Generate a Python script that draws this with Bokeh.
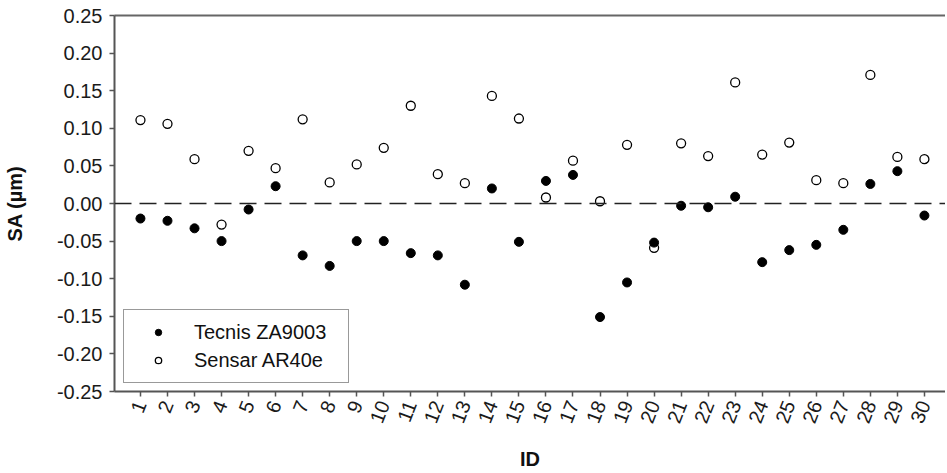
from bokeh.plotting import figure
from bokeh.models import (ColumnDataSource, FixedTicker, NumeralTickFormatter, Span,
                          Legend, LegendItem, LinearAxis, Range1d)
from bokeh.embed import file_html
from bokeh.resources import INLINE

ids = list(range(1, 31))
tecnis = [-0.020, -0.023, -0.033, -0.050, -0.008, 0.023, -0.069, -0.083, -0.050, -0.050,
          -0.066, -0.069, -0.108, 0.020, -0.051, 0.030, 0.038, -0.151, -0.105, -0.052,
          -0.003, -0.005, 0.009, -0.078, -0.062, -0.055, -0.035, 0.026, 0.043, -0.016]
sensar = [0.111, 0.106, 0.059, -0.028, 0.070, 0.047, 0.112, 0.028, 0.052, 0.074,
          0.130, 0.039, 0.027, 0.143, 0.113, 0.008, 0.057, 0.003, 0.078, -0.059,
          0.080, 0.063, 0.161, 0.065, 0.081, 0.031, 0.027, 0.171, 0.062, 0.059]
y_ticks = [-0.25, -0.20, -0.15, -0.10, -0.05, 0.0, 0.05, 0.10, 0.15, 0.20, 0.25]

FONT = "Liberation Sans"

p = figure(width=945, height=473, output_backend="svg", toolbar_location=None,
           x_range=Range1d(0.04, 30.78), y_range=Range1d(-0.25, 0.25),
           min_border_left=114, min_border_right=0, min_border_top=15, min_border_bottom=82)
p.xgrid.visible = False
p.ygrid.visible = False
p.outline_line_color = None
p.background_fill_color = "white"
p.border_fill_color = "white"

src = ColumnDataSource(dict(id=ids, tecnis=tecnis, sensar=sensar))

zero = Span(location=0, dimension="width", line_color="#222222", line_width=1.3,
            line_dash="17 8")
p.add_layout(zero)

r_s = p.scatter("id", "sensar", source=src, size=9, marker="circle",
                fill_color="white", line_color="black", line_width=1.3)
r_t = p.scatter("id", "tecnis", source=src, size=9, marker="circle",
                fill_color="black", line_color="black", line_width=1)

for ax in (p.xaxis[0], p.yaxis[0]):
    ax.axis_line_color = "#555555"
    ax.axis_line_width = 2
    ax.major_tick_line_color = "#555555"
    ax.major_tick_line_width = 1.5
    ax.major_tick_in = 0
    ax.major_tick_out = 5
    ax.minor_tick_line_color = None
    ax.major_label_text_font = FONT
    ax.major_label_text_font_size = "20px"
    ax.major_label_text_color = "#1a1a1a"
    ax.axis_label_text_font = FONT
    ax.axis_label_text_font_style = "bold"
    ax.axis_label_text_font_size = "20px"
    ax.axis_label_text_color = "#111111"

p.yaxis.ticker = FixedTicker(ticks=y_ticks)
p.yaxis.formatter = NumeralTickFormatter(format="0.00")
p.yaxis.axis_label = "SA (µm)"
p.yaxis.major_label_standoff = 7
p.yaxis.axis_label_standoff = 28

p.xaxis.ticker = FixedTicker(ticks=ids)
p.xaxis.major_label_orientation = 1.2
p.xaxis.axis_label = "ID"
p.xaxis.major_label_standoff = 5
p.xaxis.axis_label_standoff = 18

top = LinearAxis(axis_line_color="#666666", axis_line_width=2,
                 major_tick_line_color=None, minor_tick_line_color=None,
                 major_label_text_font_size="0px", major_label_standoff=0,
                 ticker=FixedTicker(ticks=[]))
p.add_layout(top, "above")

legend = Legend(items=[LegendItem(label="Tecnis ZA9003", renderers=[r_t]),
                       LegendItem(label="Sensar AR40e", renderers=[r_s])],
                location=(9, 8), padding=8, spacing=0, margin=0,
                glyph_width=52, glyph_height=16, label_height=28, label_standoff=10,
                label_width=146,
                label_text_font=FONT, label_text_font_size="20px", label_text_color="#111111",
                border_line_color="#333333", border_line_width=1.5,
                background_fill_color="white", background_fill_alpha=1)
p.add_layout(legend, "center")

open("out.html", "w").write(file_html(p, INLINE))
